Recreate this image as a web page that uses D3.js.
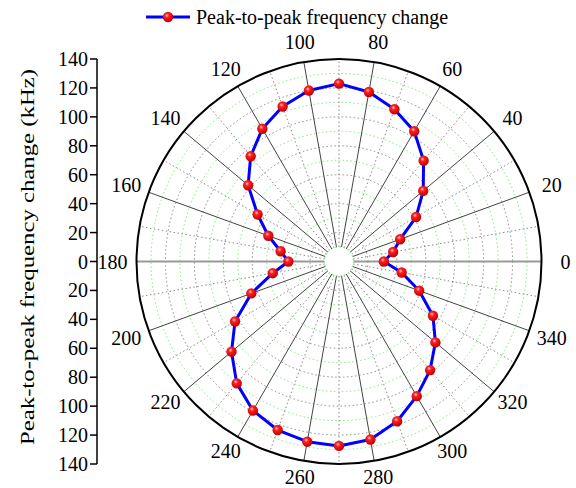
<!DOCTYPE html>
<html><head><meta charset="utf-8">
<script src="https://cdn.jsdelivr.net/npm/d3@7/dist/d3.min.js"></script>
<style>body{margin:0;background:#fff}svg{display:block}text{font-family:"Liberation Serif","Times New Roman",serif}</style>
</head><body>
<svg id="c" width="576" height="488"></svg>
<script>
const angles = [0,10,20,30,40,50,60,70,80,90,100,110,120,130,140,150,160,170,180,190,200,210,220,230,240,250,260,270,280,290,300,310,320,330,340,350];
const values = [31,38,45,61.5,76,91,104,112,119,123,120,114,106,95,82,65,52,41,35,46.5,64.5,83,97,110,119,124,126.5,127.5,125,117.5,107.5,98,87,75,59,44];
const angleTicks = [0,20,40,60,80,100,120,140,160,180,200,220,240,260,280,300,320,340];
const radialTicks = [140,120,100,80,60,40,20,0,20,40,60,80,100,120,140];
const seriesName = "Peak-to-peak frequency change";
const axisTitle = "Peak-to-peak frequency change (kHz)";

const svg = d3.select("#c");
const cx = 339, cy = 261.5, R = 202.5;
const FS = 20;
const r = d3.scaleLinear().domain([0,140]).range([0,R]);
const rad = a => a*Math.PI/180;
const px = (a,v) => cx + r(v)*Math.cos(rad(a));
const py = (a,v) => cy - r(v)*Math.sin(rad(a));

const defs = svg.append("defs");
const g = defs.append("radialGradient").attr("id","ball").attr("cx","40%").attr("cy","35%").attr("r","65%");
g.append("stop").attr("offset","0%").attr("stop-color","#ffd0d0");
g.append("stop").attr("offset","30%").attr("stop-color","#ff2020");
g.append("stop").attr("offset","100%").attr("stop-color","#c00000");

const grid = svg.append("g");
d3.range(10,140,10).forEach(v=>{
  const green = (v/10)%2===1;
  grid.append("circle").attr("cx",cx).attr("cy",cy).attr("r",r(v))
    .attr("fill","none").attr("stroke",green?"#80e880":"#8a8a8a")
    .attr("stroke-width",1).attr("stroke-dasharray","1.5,2.5");
});
d3.range(0,360,10).forEach(a=>{
  const major = a%20===0;
  const horiz = a===0||a===180;
  grid.append("line")
    .attr("x1",px(a,10)).attr("y1",py(a,10)).attr("x2",px(a,140)).attr("y2",py(a,140))
    .attr("stroke",horiz?"#999":(major?"#444":"#8a8a8a"))
    .attr("stroke-width",horiz?2:1)
    .attr("stroke-dasharray",major?null:"1.5,2.5");
});
grid.append("circle").attr("cx",cx).attr("cy",cy).attr("r",r(10)).attr("fill","#fff")
  .attr("stroke","#80e880").attr("stroke-dasharray","1.5,2.5");
grid.append("circle").attr("cx",cx).attr("cy",cy).attr("r",R).attr("fill","none").attr("stroke","#000").attr("stroke-width",2);

svg.append("g").selectAll("text").data(angleTicks).join("text")
  .attr("x",a=>cx+(R+24)*Math.cos(rad(a)))
  .attr("y",a=>cy-(R+(Math.sin(rad(a))<-0.5?16:20))*Math.sin(rad(a)))
  .attr("dy","0.35em").attr("text-anchor","middle").attr("font-size",FS).text(a=>a);

const line = d3.lineRadial().angle(d=>rad(90-d[0])).radius(d=>r(d[1])).curve(d3.curveLinearClosed);
const pts = angles.map((a,i)=>[a,values[i]]);
svg.append("path").attr("transform",`translate(${cx},${cy})`).attr("d",line(pts))
  .attr("fill","none").attr("stroke","#0000ff").attr("stroke-width",3).attr("stroke-linejoin","round");
svg.append("g").selectAll("circle").data(pts).join("circle")
  .attr("cx",d=>px(d[0],d[1])).attr("cy",d=>py(d[0],d[1])).attr("r",5.2).attr("fill","url(#ball)");

const yAx = d3.scaleLinear().domain([0,radialTicks.length-1]).range([cy-R,cy+R]);
const ax = svg.append("g").attr("transform","translate(97,0)");
ax.append("line").attr("x1",0).attr("x2",0).attr("y1",cy-R).attr("y2",cy+R).attr("stroke","#000").attr("stroke-width",1.5);
radialTicks.forEach((t,i)=>{
  ax.append("line").attr("x1",-7).attr("x2",0).attr("y1",yAx(i)).attr("y2",yAx(i)).attr("stroke","#000").attr("stroke-width",1.5);
  ax.append("text").attr("x",-9).attr("y",yAx(i)).attr("dy","0.35em").attr("text-anchor","end").attr("font-size",FS).text(t);
});
svg.append("text").attr("transform",`translate(34,257) rotate(-90)`).attr("text-anchor","middle")
  .attr("font-size",19.5).attr("textLength",376).attr("lengthAdjust","spacingAndGlyphs").text(axisTitle);

const lg = svg.append("g");
lg.append("line").attr("x1",146).attr("x2",190).attr("y1",17).attr("y2",17).attr("stroke","#0000ff").attr("stroke-width",3);
lg.append("circle").attr("cx",168).attr("cy",17).attr("r",5.2).attr("fill","url(#ball)");
lg.append("text").attr("x",196).attr("y",17).attr("dy","0.35em").attr("font-size",FS).text(seriesName);
</script>
</body></html>
